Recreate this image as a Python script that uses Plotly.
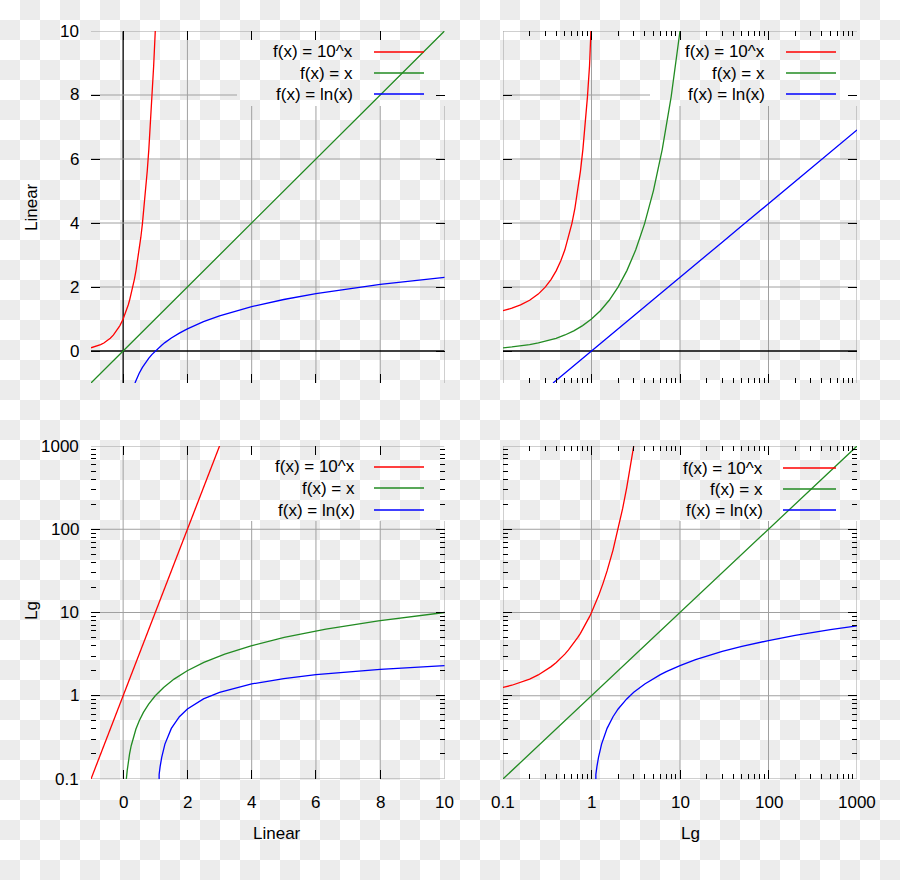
import math
import plotly.graph_objects as go

W, H = 900, 880

# ---------------- data ----------------
series_names = ["f(x) = 10^x", "f(x) = x", "f(x) = ln(x)"]
series_colors = ["#ff0000", "#228b22", "#0000ff"]

red_x = [-1.0, -0.9, -0.8, -0.7, -0.6, -0.5, -0.4, -0.3, -0.2, -0.1, 0.0, 0.1, 0.126, 0.158,
         0.2, 0.25, 0.3, 0.35, 0.4, 0.45, 0.5, 0.55, 0.6, 0.65, 0.7, 0.75, 0.8, 0.85, 0.9,
         0.95, 1.0, 1.1, 1.2, 1.35, 1.5, 1.75, 2.0, 2.25, 2.5, 2.75, 3.0]
red_y = [0.1, 0.1259, 0.1585, 0.1995, 0.2512, 0.3162, 0.3981, 0.5012, 0.631, 0.7943, 1.0,
         1.259, 1.337, 1.439, 1.585, 1.778, 1.995, 2.239, 2.512, 2.818, 3.162, 3.548, 3.981,
         4.467, 5.012, 5.623, 6.31, 7.079, 7.943, 8.913, 10.0, 12.59, 15.85, 22.39, 31.62,
         56.23, 100.0, 177.8, 316.2, 562.3, 1000.0]

green_x = [-1.0, -0.5, 0.0, 0.1, 0.126, 0.158, 0.2, 0.251, 0.316, 0.398, 0.501, 0.631, 0.794,
           1.0, 1.259, 1.585, 1.995, 2.512, 3.162, 3.981, 5.012, 6.31, 7.943, 10.0, 20.0,
           50.0, 100.0, 200.0, 500.0, 1000.0]
green_y = [-1.0, -0.5, 0.0, 0.1, 0.126, 0.158, 0.2, 0.251, 0.316, 0.398, 0.501, 0.631, 0.794,
           1.0, 1.259, 1.585, 1.995, 2.512, 3.162, 3.981, 5.012, 6.31, 7.943, 10.0, 20.0,
           50.0, 100.0, 200.0, 500.0, 1000.0]

blue_x = [0.3679, 0.4, 0.45, 0.5, 0.6, 0.7, 0.8, 0.9, 1.0, 1.1, 1.12, 1.15, 1.2, 1.3, 1.4,
          1.5, 1.75, 2.0, 2.5, 3.0, 4.0, 5.0, 6.0, 7.0, 8.0, 10.0, 15.0, 20.0, 30.0, 50.0,
          70.0, 100.0, 200.0, 300.0, 500.0, 1000.0]
blue_y = [-1.0, -0.916, -0.799, -0.693, -0.511, -0.357, -0.223, -0.105, 0.0, 0.0953, 0.1133,
          0.1398, 0.1823, 0.2624, 0.3365, 0.4055, 0.5596, 0.6931, 0.9163, 1.0986, 1.3863,
          1.6094, 1.7918, 1.9459, 2.0794, 2.3026, 2.7081, 2.9957, 3.4012, 3.912, 4.2485,
          4.6052, 5.2983, 5.7038, 6.2146, 6.9078]

lin_ticks = [0, 2, 4, 6, 8, 10]
lin_ticktext = ["0", "2", "4", "6", "8", "10"]
log_ticks = [0.1, 1, 10, 100, 1000]
log_ticktext = ["0.1", "1", "10", "100", "1000"]
log_minor = [0.2, 0.3, 0.4, 0.5, 0.6, 0.7, 0.8, 0.9,
             2, 3, 4, 5, 6, 7, 8, 9,
             20, 30, 40, 50, 60, 70, 80, 90,
             200, 300, 400, 500, 600, 700, 800, 900]
lin_range = [-1, 10]
log_range = [0.1, 1000]

axis_title_lin = "Linear"
axis_title_log = "Lg"

# ---------------- layout geometry (pixels) ----------------
FONT = "Liberation Sans, Arial, sans-serif"
GRID = "#a0a0a0"
tick_font = dict(family=FONT, size=17, color="black")

panels = [
    dict(n="", xlog=False, ylog=False, box=(91, 31, 444.5, 383), xl=False, yl=True,
         key=(237, 31, 447, 106), txt=355, ln=(374, 424), rows=(52, 73, 94),
         zx=True, zy=True),
    dict(n="2", xlog=True, ylog=False, box=(503, 31, 857, 383), xl=False, yl=False,
         key=(650, 31, 860, 106), txt=767, ln=(786, 836), rows=(52, 73, 94),
         zx=False, zy=True),
    dict(n="3", xlog=False, ylog=True, box=(91, 446, 444.5, 779), xl=True, yl=True,
         key=(237, 446, 447, 521), txt=357, ln=(374, 424), rows=(467, 488, 510),
         zx=False, zy=False),
    dict(n="4", xlog=True, ylog=True, box=(503, 446, 857, 779), xl=True, yl=False,
         key=(640, 446, 860, 521), txt=765, ln=(783, 836), rows=(468, 489, 510),
         zx=False, zy=False),
]


def frac(v, is_log):
    if is_log:
        lo, hi = math.log10(log_range[0]), math.log10(log_range[1])
        return (math.log10(v) - lo) / (hi - lo)
    return (v - lin_range[0]) / (lin_range[1] - lin_range[0])


def unfrac(t, is_log):
    if is_log:
        lo, hi = math.log10(log_range[0]), math.log10(log_range[1])
        return 10 ** (lo + t * (hi - lo))
    return lin_range[0] + t * (lin_range[1] - lin_range[0])


def make_axis(is_log, dom, anchor):
    a = dict(domain=dom, anchor=anchor, showgrid=False, zeroline=False, showline=False,
             ticks="inside", ticklen=9, tickwidth=1, tickcolor="black", mirror="ticks",
             showticklabels=False, fixedrange=True, tickmode="array")
    if is_log:
        a.update(type="log", range=[math.log10(log_range[0]), math.log10(log_range[1])],
                 tickvals=log_ticks,
                 minor=dict(tickmode="array", tickvals=log_minor, ticks="inside", ticklen=5,
                            tickwidth=1, tickcolor="black", showgrid=False))
    else:
        a.update(type="linear", range=lin_range, tickvals=lin_ticks)
    return a


fig = go.Figure()
shapes = []
annotations = []
layout_axes = {}

# checkerboard background (the transparency pattern baked into the original picture)
CELL = 20
for r in range(math.ceil(H / CELL)):
    sq = []
    for c in range(math.ceil(W / CELL)):
        if (r + c) % 2 == 1:
            xa0, xa1 = c * CELL / W, min((c + 1) * CELL, W) / W
            ya0, ya1 = 1 - r * CELL / H, 1 - min((r + 1) * CELL, H) / H
            sq.append(f"M{xa0:.5f},{ya0:.5f}H{xa1:.5f}V{ya1:.5f}H{xa0:.5f}Z")
    shapes.append(dict(type="path", xref="paper", yref="paper", path="".join(sq),
                       fillcolor="#ececec", line=dict(width=0), layer="below"))

for p in panels:
    x0, y0, x1, y1 = p["box"]
    xa, ya = "x" + p["n"], "y" + p["n"]
    layout_axes["xaxis" + p["n"]] = make_axis(p["xlog"], [x0 / W, x1 / W], ya)
    layout_axes["yaxis" + p["n"]] = make_axis(p["ylog"], [1 - y1 / H, 1 - y0 / H], xa)

    for xs, ys, name, col in zip([red_x, green_x, blue_x], [red_y, green_y, blue_y],
                                 series_names, series_colors):
        fig.add_trace(go.Scatter(x=xs, y=ys, mode="lines", name=name, xaxis=xa, yaxis=ya,
                                 line=dict(color=col, width=1.3), showlegend=False,
                                 hoverinfo="skip"))

    xt = log_ticks if p["xlog"] else lin_ticks
    yt = log_ticks if p["ylog"] else lin_ticks
    xtt = log_ticktext if p["xlog"] else lin_ticktext
    ytt = log_ticktext if p["ylog"] else lin_ticktext

    # tick labels (placed like gnuplot: 10px left of the axis, 23px below it)
    if p["yl"]:
        for v, t in zip(yt, ytt):
            Y = y1 - frac(v, p["ylog"]) * (y1 - y0)
            annotations.append(dict(xref="paper", yref="paper", x=(x0 - 10) / W, y=1 - Y / H,
                                    xanchor="right", yanchor="middle", showarrow=False,
                                    text=t, font=tick_font))
    if p["xl"]:
        for v, t in zip(xt, xtt):
            X = x0 + frac(v, p["xlog"]) * (x1 - x0)
            annotations.append(dict(xref="paper", yref="paper", x=X / W, y=1 - (y1 + 23) / H,
                                    xanchor="center", yanchor="middle", showarrow=False,
                                    text=t, font=tick_font))

    kx0, ky0, kx1, ky1 = p["key"]
    ymin = unfrac(0, p["ylog"])
    ymax = unfrac(1, p["ylog"])
    xmin = unfrac(0, p["xlog"])
    xmax = unfrac(1, p["xlog"])
    # vertical grid lines (interrupted by the key box)
    for v in xt:
        X = x0 + frac(v, p["xlog"]) * (x1 - x0)
        top = ymax
        if kx0 <= X <= kx1:
            top = unfrac((y1 - ky1) / (y1 - y0), p["ylog"])
        is_zero = (not p["xlog"]) and v == 0 and p["zx"]
        shapes.append(dict(type="line", xref=xa, yref=ya,
                           x0=v, x1=v, y0=ymin, y1=ymax if is_zero else top,
                           line=dict(color="#000000" if is_zero else GRID,
                                     width=1.3 if is_zero else 1),
                           layer="below"))
    # horizontal grid lines (interrupted by the key box)
    for v in yt:
        Y = y1 - frac(v, p["ylog"]) * (y1 - y0)
        right = xmax
        if ky0 + 2 < Y < ky1:
            right = unfrac((kx0 - x0) / (x1 - x0), p["xlog"])
        is_zero = (not p["ylog"]) and v == 0 and p["zy"]
        shapes.append(dict(type="line", yref=ya, xref=xa,
                           y0=v, y1=v, x0=xmin, x1=xmax if is_zero else right,
                           line=dict(color="#000000" if is_zero else GRID,
                                     width=1.3 if is_zero else 1),
                           layer="below"))

    # key (gnuplot style: text then sample line)
    for row, name, col in zip(p["rows"], series_names, series_colors):
        annotations.append(dict(xref="paper", yref="paper", x=p["txt"] / W, y=1 - row / H,
                                xanchor="right", yanchor="middle", showarrow=False, text=name,
                                font=dict(family=FONT, size=17, color="black")))
        shapes.append(dict(type="line", xref="paper", yref="paper",
                           x0=p["ln"][0] / W, x1=p["ln"][1] / W, y0=1 - row / H, y1=1 - row / H,
                           line=dict(color=col, width=1.3)))

# axis titles
title_font = dict(family=FONT, size=17, color="black")
annotations += [
    dict(xref="paper", yref="paper", x=31 / W, y=1 - 207 / H, text=axis_title_lin, textangle=-90,
         showarrow=False, xanchor="center", yanchor="middle", font=title_font),
    dict(xref="paper", yref="paper", x=31 / W, y=1 - 611 / H, text=axis_title_log, textangle=-90,
         showarrow=False, xanchor="center", yanchor="middle", font=title_font),
    dict(xref="paper", yref="paper", x=277 / W, y=1 - 833 / H, text=axis_title_lin,
         showarrow=False, xanchor="center", yanchor="middle", font=title_font),
    dict(xref="paper", yref="paper", x=690 / W, y=1 - 833 / H, text=axis_title_log,
         showarrow=False, xanchor="center", yanchor="middle", font=title_font),
]

fig.update_layout(
    width=W, height=H,
    margin=dict(l=0, r=0, t=0, b=0, autoexpand=False),
    paper_bgcolor="#ffffff", plot_bgcolor="rgba(0,0,0,0)",
    showlegend=False,
    font=dict(family=FONT, size=17, color="black"),
    shapes=shapes, annotations=annotations,
    **layout_axes,
)

fig.write_html("out.html", config={"displayModeBar": False},
               post_script="document.body.style.margin='0';")
